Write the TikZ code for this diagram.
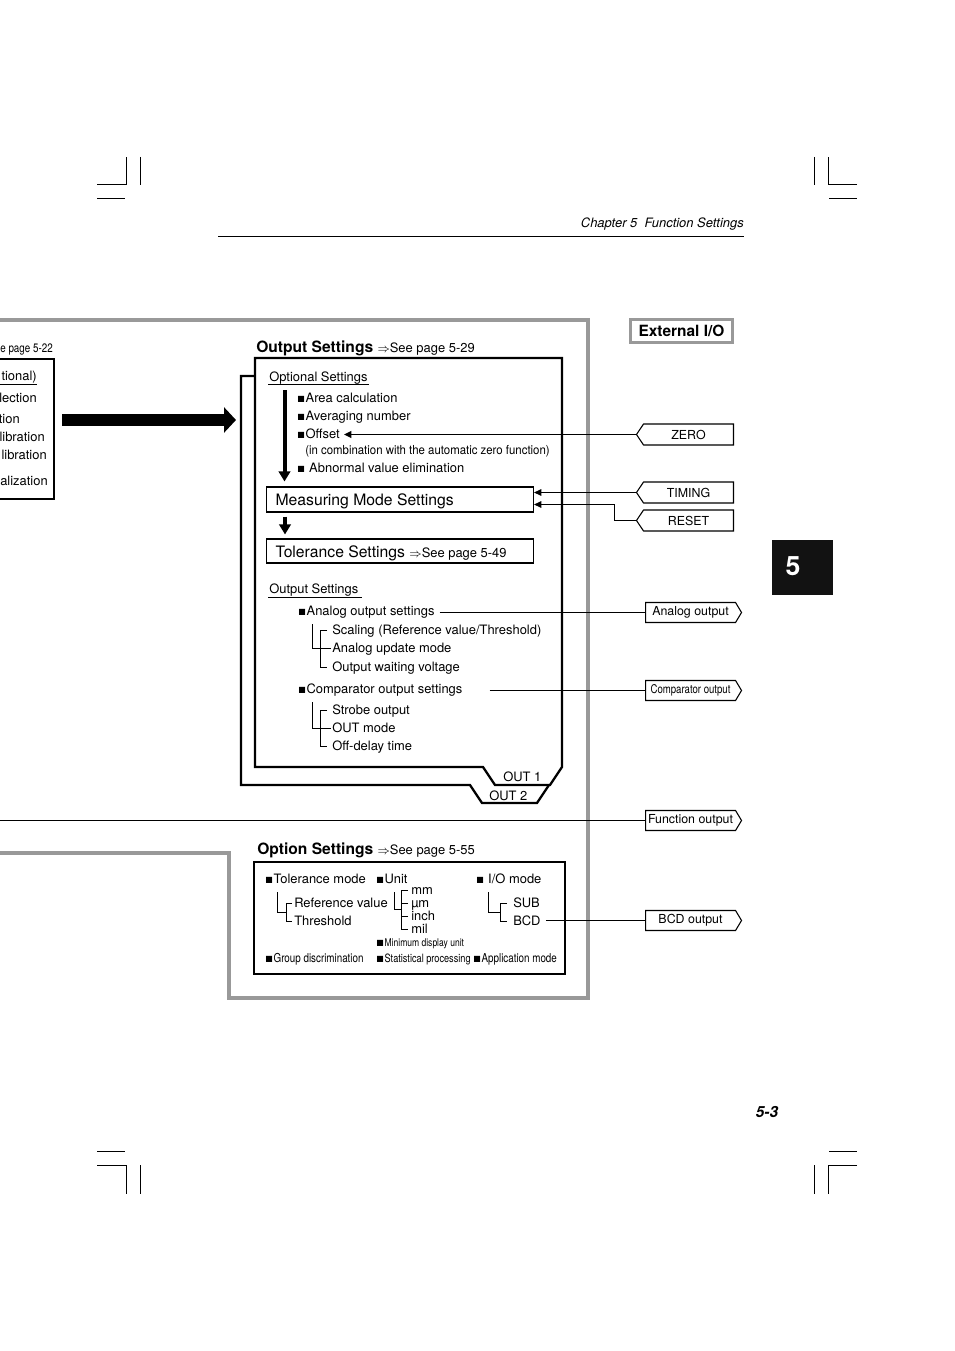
\documentclass[tikz,border=0pt]{standalone}
\usepackage{fontspec}
\setmainfont{TeX Gyre Heros}
\newfontfamily\narrowfont[FakeStretch=0.8]{TeX Gyre Heros}
\newfontfamily\semifont[FakeStretch=0.92]{TeX Gyre Heros}
\newfontfamily\symfont{DejaVu Sans}
\usetikzlibrary{arrows.meta,shapes.symbols,calc}
\newcommand{\blk}{\raisebox{0.9pt}{\symfont\fontsize{6}{6}\selectfont ■}\kern0.6pt}
\newcommand{\seepage}[1]{{\mdseries\fontsize{9.7}{11}\selectfont{\fontsize{9}{9}\selectfont$\Rightarrow$}See page #1}}

\begin{document}
\begin{tikzpicture}[x=0.75pt,y=-0.75pt,line join=miter,
  txt/.style={inner sep=0pt,anchor=west,font=\fontsize{9.7}{11}\selectfont,text height=1.6ex,text depth=0.35ex},
  nar/.style={txt,font=\narrowfont\fontsize{8.6}{10}\selectfont},
  head/.style={txt,font=\bfseries\fontsize{11.7}{13}\selectfont},
  big/.style={draw,line width=0.8pt,anchor=west,inner xsep=6.75pt,inner ysep=0pt,text width=186.75pt,align=flush left,text height=2.1ex,text depth=0.35ex,font=\fontsize{11.8}{13}\selectfont},
  frame/.style={draw=black!40,line width=2.5pt},
  bx/.style={line width=1.7pt},
  ln/.style={line width=0.7pt},
  ul/.style={line width=0.6pt},
  crop/.style={line width=0.75pt},
  tagl/.style={signal,signal to=west,signal from=nowhere,signal pointer angle=112,draw,line width=0.8pt,minimum width=72.75pt,minimum height=15.75pt,inner sep=0pt,anchor=east,font=\fontsize{9.3}{11}\selectfont},
  tagr/.style={tagl,signal to=east,signal pointer angle=118,minimum width=72pt,minimum height=15pt,anchor=west},
  arr/.style={ln,-{Triangle[length=5.5pt,width=5pt]}},
  fat/.style={line width=3pt,-{Triangle[length=7.5pt,width=8.5pt]}}]

\clip (0,0) rectangle (954,1351);
\fill[white] (0,0) rectangle (954,1351);

% crop marks
\draw[crop] (97,185) -- (126,185) -- (126,157);
\draw[crop] (140,157) -- (140,185);
\draw[crop] (97,199) -- (125,199);
\draw[crop] (857,185) -- (828,185) -- (828,157);
\draw[crop] (814,157) -- (814,185);
\draw[crop] (829,199) -- (857,199);
\draw[crop] (97,1151) -- (125,1151);
\draw[crop] (97,1165) -- (126,1165) -- (126,1194);
\draw[crop] (140,1165) -- (140,1194);
\draw[crop] (829,1151) -- (857,1151);
\draw[crop] (857,1165) -- (828,1165) -- (828,1194);
\draw[crop] (814,1165) -- (814,1194);

% page head, tab, page number
\node[txt,anchor=base east,font=\itshape\fontsize{9.7}{11}\selectfont] (chap) at (744,227.5) {Chapter 5\ \ Function Settings};
\draw[ln] (218,236) -- (744,236);
\node[fill=black!93,minimum width=45.75pt,minimum height=41.25pt,inner sep=0pt] (tab) at (802.5,567.5) {};
\node[text=white,font=\bfseries\fontsize{20}{20}\selectfont,inner sep=0pt] (tabnum) at (793,566) {5};
\node[font=\bfseries\itshape\fontsize{11.5}{13}\selectfont,inner sep=0pt] (pgnum) at (767,1112) {5-3};

% grey frame
\draw[frame] (-5,320) -- (588,320) -- (588,998) -- (229,998) -- (229,853) -- (-5,853);
\node[frame,fill=white,minimum width=76.5pt,minimum height=17.25pt,inner sep=0pt,font=\bfseries\fontsize{11.6}{13}\selectfont] (extio) at (681.5,331) {External I/O};

% left box (cut off)
\draw[bx] (-5,359) -- (54,359) -- (54,499) -- (-5,499);
\node[nar,anchor=east,font=\narrowfont\fontsize{9.2}{10}\selectfont] (p522) at (53,348) {e page 5-22};
\node[txt,anchor=east] (lt1) at (37,376) {tional)};
\draw[ul] (-5,384) -- (37,384);
\node[txt,anchor=east] (lt2) at (37,398) {lection};
\node[txt,anchor=east] (lt3) at (20,419) {tion};
\node[txt,anchor=east] (lt4) at (45,437) {libration};
\node[txt,anchor=east] (lt5) at (47,455) {libration};
\node[txt,anchor=east] (lt6) at (48,481) {alization};

\coordinate (lb) at (62,420);
\coordinate (ob) at (236,420);
\draw[line width=9pt,-{Triangle[length=9pt,width=18.75pt]}] (lb) -- (ob);

% output settings
\node[head] (osh) at (256,348) {Output Settings \seepage{5-29}};
\draw[bx] (255,767) -- (255,358) -- (562,358) -- (562,767) -- (550,785) -- (495,785) -- (483,767) -- cycle;
\draw[bx] (255,376) -- (241,376) -- (241,785) -- (470,785) -- (482,803) -- (537,803) -- (549,785);
\node[txt] (out1) at (503,777) {OUT 1};
\node[txt] (out2) at (489,796) {OUT 2};

\node[txt] (opt) at (269,377) {Optional Settings};
\draw[ul] (268,384) -- (369,384);
\node[txt] (area) at (297,398) {\blk Area calculation};
\node[txt] (avg) at (297,416) {\blk Averaging number};
\node[txt] (off) at (297,434) {\blk Offset};
\node[txt,font=\semifont\fontsize{9.3}{11}\selectfont] (comb) at (305,450) {(in combination with the automatic zero function)};
\node[txt] (abn) at (297,468) {\blk\ Abnormal value elimination};

\node[big,minimum height=18.75pt] (mms) at (266,499.5) {Measuring Mode Settings};
\node[big,minimum height=18pt] (tls) at (266,551) {Tolerance Settings \seepage{5-49}};
\draw[fat] ($(opt.south west)+(15.5,6)$) -- ($(mms.north west)+(18.5,-5)$);
\draw[fat] ($(mms.south west)+(19,4)$) -- ($(tls.north west)+(19,-4)$);

\node[txt] (outs) at (269,589) {Output Settings};
\draw[ul] (268,597) -- (362,597);
\node[txt] (ana) at (298,611) {\blk Analog output settings};
\node[txt] (scal) at (332,630) {Scaling (Reference value/Threshold)};
\node[txt] (aupd) at (332,648) {Analog update mode};
\node[txt] (owv) at (332,667) {Output waiting voltage};
\node[txt] (cmp) at (298,689) {\blk Comparator output settings};
\node[txt] (strb) at (332,710) {Strobe output};
\node[txt] (outm) at (332,728) {OUT mode};
\node[txt] (offd) at (332,746) {Off-delay time};
\draw[ln] (ana.south west) ++(14,6) |- ([xshift=-0.75pt]aupd.west);
\draw[ln] (scal.west) ++(-5,0) -- ++(-7,0) |- ([xshift=-3.75pt]owv.west);
\draw[ln] (cmp.south west) ++(14,6) |- ([xshift=-0.75pt]outm.west);
\draw[ln] (strb.west) ++(-5,0) -- ++(-7,0) |- ([xshift=-3.75pt]offd.west);

% external I/O tags
\node[tagl] (zero) at (734,434.5) {ZERO};
\node[tagl] (timing) at (734,492.5) {TIMING};
\node[tagl] (reset) at (734,520.5) {RESET};
\node[tagr] (anao) at (645,612.5) {Analog output};
\node[tagr,font=\narrowfont\fontsize{9}{10}\selectfont] (cmpo) at (645,690.5) {Comparator output};
\node[tagr] (funo) at (645,820.5) {Function output};
\node[tagr] (bcdo) at (645,920.5) {BCD output};

\draw[arr,line width=1.1pt,shorten >=3pt] (zero.west) -- (zero.west -| off.east);
\draw[arr] (timing.west) -- (timing.west -| mms.east);
\draw[arr] (reset.west) -- ++(-21,0) |- ([yshift=-3.75pt]mms.east);
\draw[ln] ($(ana.east |- anao.west)+(5,0)$) -- (anao.west);
\draw[ln] ($(cmp.east |- cmpo.west)+(27,0)$) -- (cmpo.west);
\coordinate (fl) at (-5,820.5);
\draw[line width=1.4pt] (fl) -- (funo.west);

% option settings
\node[head] (oph) at (257,850) {Option Settings \seepage{5-55}};
\draw[line width=1.5pt] (254,862) rectangle (565,974);
\node[txt] (tol) at (265,879) {\blk Tolerance mode};
\node[txt] (refv) at (294,903) {Reference value};
\node[txt] (thr) at (294,921) {Threshold};
\node[txt] (unit) at (376,879) {\blk Unit};
\node[txt] (mm) at (411,890) {mm};
\node[txt] (mum) at (411,903) {µm};
\node[txt] (inch) at (411,916) {inch};
\node[txt] (mil) at (411,929) {mil};
\node[nar,font=\narrowfont\fontsize{8}{9}\selectfont] (mdu) at (376,942) {\blk Minimum display unit};
\node[nar,font=\narrowfont\fontsize{9.2}{10}\selectfont] (grp) at (265,958) {\blk Group discrimination};
\node[nar] (stat) at (376,958) {\blk Statistical processing};
\node[nar,font=\narrowfont\fontsize{9.2}{10}\selectfont] (appm) at (473,958) {\blk Application mode};
\node[txt] (io) at (476,879) {\blk\ I/O mode};
\node[txt] (sub) at (513,903) {SUB};
\node[txt] (bcd) at (513,921) {BCD};
\draw[ln] (tol.south west) ++(12,6) |- ($(refv.west)!.5!(thr.west)+(-8,0)$);
\draw[ln] (refv.west) ++(-2,0) -- ++(-6,0) |- ([xshift=-1.5pt]thr.west);
\draw[ln] (unit.south west) ++(18,6) |- ($(mum.west)!.5!(inch.west)+(-10,0)$);
\draw[ln] (mm.west) ++(-3,0) -- ++(-7,0) |- ([xshift=-2.25pt]mil.west);
\draw[ln] (mum.west) ++(-3,0) -- ++(-7,0);
\draw[ln] (inch.west) ++(-3,0) -- ++(-7,0);
\draw[ln] (io.south west) ++(12,6) |- ($(sub.west)!.5!(bcd.west)+(-13,0)$);
\draw[ln] (sub.west) ++(-6,0) -- ++(-7,0) |- ([xshift=-4.5pt]bcd.west);
\draw[ln] ($(bcd.east |- bcdo.west)+(5,0)$) -- (bcdo.west);
\end{tikzpicture}
\end{document}
